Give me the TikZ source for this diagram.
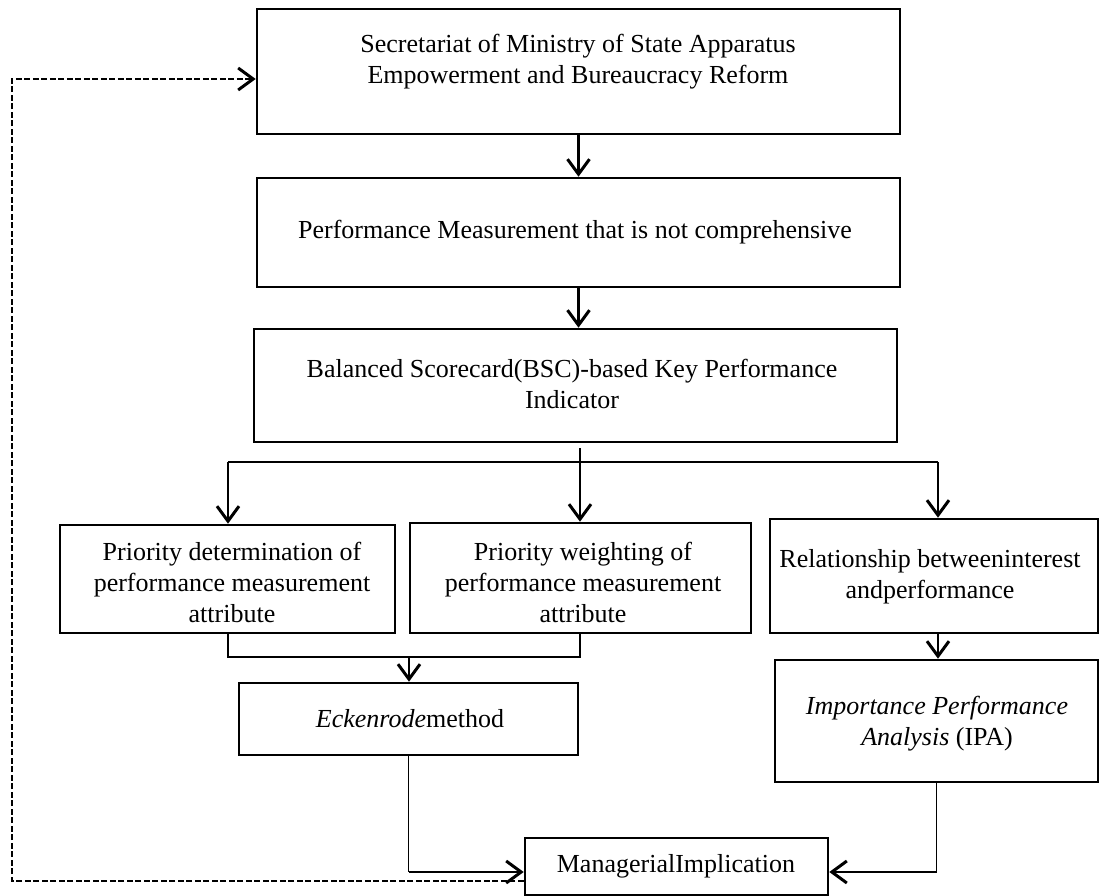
\documentclass[tikz,border=0pt]{standalone}
\usepackage{fontspec}
\setmainfont{Liberation Serif}
\usetikzlibrary{arrows.meta}
\begin{document}
\begin{tikzpicture}[x=1pt,y=-1pt,
  box/.style={draw, line width=2.6pt, inner sep=0pt},
  txt/.style={align=center, font=\fontsize{26}{31}\selectfont, inner sep=0pt},
  conn/.style={line width=1.9pt},
  tip/.style={-{Straight Barb[length=15pt,width=22pt,line width=3pt]}},
  arr/.style={line width=2.7pt, tip},
  dashline/.style={line width=2.6pt, dash pattern=on 6pt off 2.5pt, tip}
]
\useasboundingbox (0,0) rectangle (1101,896);
% boxes
\node[box, minimum width=643pt, minimum height=125pt] (b1) at (578.5,71.5) {};
\node[box, minimum width=643pt, minimum height=109pt] (b2) at (578.5,232.5) {};
\node[box, minimum width=643pt, minimum height=113pt] (b3) at (575.5,385.5) {};
\node[box, minimum width=335pt, minimum height=108pt] (b4) at (227.5,579) {};
\node[box, minimum width=341pt, minimum height=110pt] (b5) at (580.5,578) {};
\node[box, minimum width=328pt, minimum height=114pt] (b6) at (934,576) {};
\node[box, minimum width=339pt, minimum height=72pt] (b7) at (408.5,719) {};
\node[box, minimum width=323pt, minimum height=122pt] (b8) at (936.5,721) {};
\node[box, minimum width=303pt, minimum height=57pt] (b9) at (676.5,866.5) {};
% texts
\node[txt] (t1) at (578,62) {Secretariat of Ministry of State Apparatus\\Empowerment and Bureaucracy Reform};
\node[txt] (t2) at (575,232) {Performance Measurement that is not comprehensive};
\node[txt] (t3) at (572,384) {Balanced Scorecard(BSC)-based Key Performance\\Indicator};
\node[txt] (t4) at (232,582) {Priority determination of\\performance measurement\\attribute};
\node[txt] (t5) at (583,582) {Priority weighting of\\performance measurement\\attribute};
\node[txt] (t6) at (930,577) {Relationship betweeninterest\\andperformance};
\node[txt] (t7) at (410,719) {\textit{Eckenrode}method};
\node[txt] (t8) at (937,724) {\textit{Importance Performance}\\\textit{Analysis} (IPA)};
\node[txt] (t9) at (676,866) {ManagerialImplication};
% coordinates
\coordinate (j) at (580,462);
\coordinate (jl) at (228,462);
\coordinate (jr) at (938,462);
\coordinate (k) at (409,657);
\coordinate (m) at (0,872);
\coordinate (d) at (12,881);
\coordinate (d2) at (12,79);
% connectors
\draw[arr] (b1.south) -- (b1.south |- b2.north);
\draw[arr] (b2.south) -- (b2.south |- b3.north);
\draw[conn] ([yshift=-5pt]j |- b3.south) -- (j);
\draw[conn] (jl) -- (jr);
\draw[arr] (jl) -- (jl |- b4.north);
\draw[arr] (j) -- (j |- b5.north);
\draw[arr] (jr) -- (jr |- b6.north);
\draw[conn] (jl |- b4.south) -- (jl |- k) -- (j |- k) -- (j |- b5.south);
\draw[arr] (k) -- (k |- b7.north);
\draw[arr] (b6.south -| jr) -- (jr |- b8.north);
\draw[conn] (b7.south) -- (b7.south |- m);
\draw[arr] (b7.south |- m) -- (b9.west |- m);
\draw[conn] (b8.south) -- (b8.south |- m);
\draw[arr] (b8.south |- m) -- (b9.east |- m);
\draw[dashline] (b9.west |- d) -- (d) -- (d2) -- (d2 -| b1.west);
\end{tikzpicture}
\end{document}
